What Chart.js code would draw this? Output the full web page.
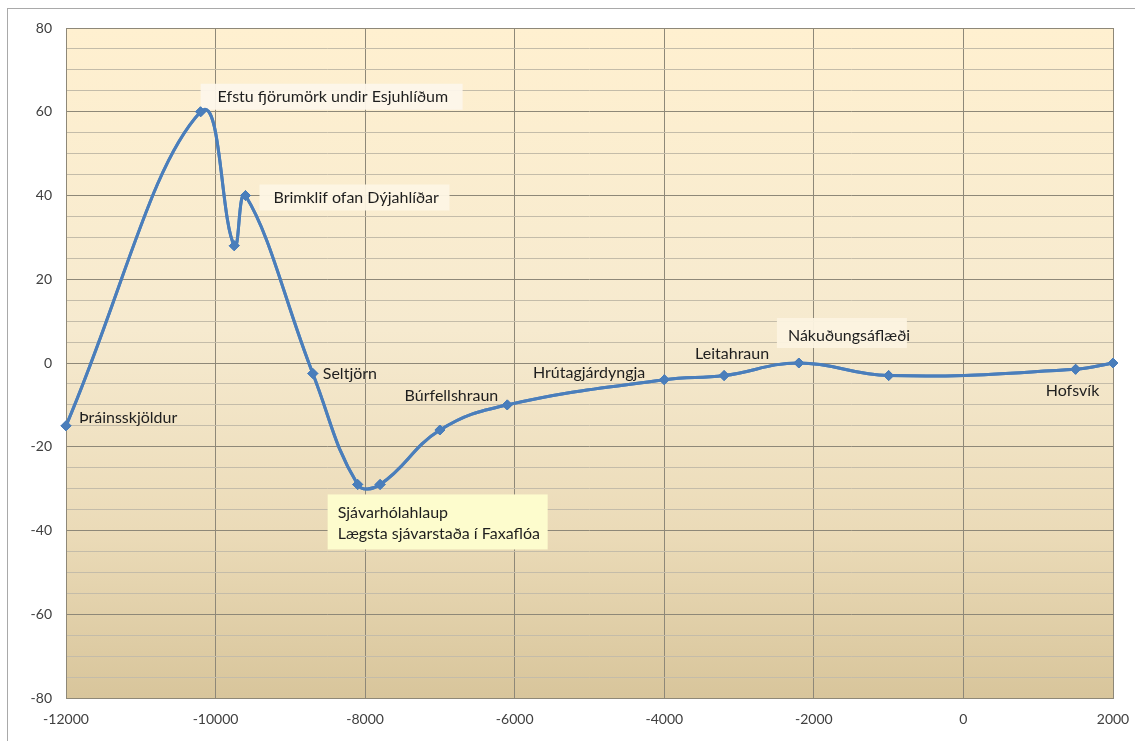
<!DOCTYPE html>
<html>
<head>
<meta charset="utf-8">
<script src="https://cdn.jsdelivr.net/npm/chart.js@4.4.1/dist/chart.umd.min.js"></script>
<style>
  html, body { margin: 0; padding: 0; background: #ffffff; overflow: hidden; }
  #frame { position: absolute; left: 7px; top: 8px; width: 1200px; height: 800px;
           border-left: 1px solid #a9a9a9; border-top: 1px solid #a9a9a9; box-sizing: border-box; }
  #wrap { position: absolute; left: 0; top: 0; width: 1135px; height: 741px; }
</style>
</head>
<body>
<div id="frame"></div>
<div id="wrap"><canvas id="c" width="1135" height="741"></canvas></div>
<script>
// Sea level (m) relative to today, by year (negative = BC)
const years  = [-12000, -10200, -9750, -9600, -8700, -8100, -7800, -7000, -6100, -4000, -3200, -2200, -1000, 1500, 2000];
const levels = [-15, 60, 28, 40, -2.5, -29, -29, -16, -10, -4, -3, 0, -3, -1.5, 0];

// Place names attached to the points ('' = no label)
const placeNames = [
  'Þráinsskjöldur',
  'Efstu fjörumörk undir Esjuhlíðum',
  '',
  'Brimklif ofan Dýjahlíðar',
  'Seltjörn',
  'Sjávarhólahlaup\nLægsta sjávarstaða í Faxaflóa',
  '',
  '',
  'Búrfellshraun',
  'Hrútagjárdyngja',
  'Leitahraun',
  'Nákuðungsáflæði',
  '',
  'Hofsvík',
  ''
];

// Axis ticks
const xTicks = [-12000, -10000, -8000, -6000, -4000, -2000, 0, 2000];
const yTicks = [-80, -60, -40, -20, 0, 20, 40, 60, 80];

// Label placement relative to its point, in pixels
const labelPlacement = {
  0:  { dx: 13,  dy: -8,  align: 'left' },
  1:  { dx: 17,  dy: -15, align: 'left', box: [-17, -13, 262, 26], fill: 'rgba(253,246,234,0.95)' },
  3:  { dx: 28,  dy: 2,   align: 'left', box: [-14, -13, 190, 26], fill: 'rgba(253,245,228,0.95)' },
  4:  { dx: 10,  dy: 0,   align: 'left' },
  5:  { dx: -20, dy: 28,  align: 'left', box: [-10, -18, 220, 55], fill: '#fdfccd', lineH: 21 },
  8:  { dx: -9,  dy: -9,  align: 'right' },
  9:  { dx: -19, dy: -7,  align: 'right' },
  10: { dx: 8,   dy: -22, align: 'center' },
  11: { dx: -11, dy: -27, align: 'left', box: [-11, -18, 130, 30], fill: 'rgba(252,243,224,0.95)' },
  13: { dx: -3,  dy: 22,  align: 'center' }
};

const FONT = 'Lato, "Open Sans", sans-serif';
const LINE_BLUE = '#4a7ebb';

const plotBackground = {
  id: 'plotBackground',
  beforeDraw(chart) {
    const { ctx, chartArea: a } = chart;
    const g = ctx.createLinearGradient(0, a.top, 0, a.bottom);
    g.addColorStop(0, '#fff0d0');
    g.addColorStop(0.45, '#f6eacf');
    g.addColorStop(0.75, '#ebdbb8');
    g.addColorStop(1, '#d8c59b');
    ctx.save();
    ctx.fillStyle = g;
    ctx.fillRect(a.left, a.top, a.right - a.left, a.bottom - a.top);
    ctx.restore();
  },
  afterDatasetsDraw(chart) {
    const { ctx, chartArea: a } = chart;
    ctx.save();
    ctx.strokeStyle = '#8e8878';
    ctx.lineWidth = 1;
    ctx.strokeRect(Math.round(a.left) + 0.5, Math.round(a.top) + 0.5,
                   Math.round(a.right - a.left), Math.round(a.bottom - a.top));
    ctx.restore();
  }
};

const placeLabels = {
  id: 'placeLabels',
  afterDatasetsDraw(chart) {
    const { ctx } = chart;
    const xs = chart.scales.x, ys = chart.scales.y;
    ctx.save();
    ctx.font = '16px ' + FONT;
    ctx.textBaseline = 'middle';
    placeNames.forEach((name, i) => {
      if (!name) return;
      const p = labelPlacement[i];
      const px = xs.getPixelForValue(years[i]);
      const py = ys.getPixelForValue(levels[i]);
      const tx = px + p.dx, ty = py + p.dy;
      if (p.box) {
        ctx.fillStyle = p.fill;
        ctx.fillRect(tx + p.box[0], ty + p.box[1], p.box[2], p.box[3]);
      }
      ctx.fillStyle = '#1e1e1e';
      ctx.textAlign = p.align;
      name.split('\n').forEach((line, k) => {
        ctx.fillText(line, tx, ty + k * (p.lineH || 18));
      });
    });
    ctx.restore();
  }
};

// Draw the curve again so it sits above the label boxes
const curveOnTop = {
  id: 'curveOnTop',
  afterDraw(chart) {
    const meta = chart.getDatasetMeta(0);
    chart.ctx.save();
    meta.controller.draw();
    chart.ctx.restore();
  }
};

new Chart(document.getElementById('c'), {
  type: 'scatter',
  data: {
    datasets: [{
      data: years.map((x, i) => ({ x, y: levels[i] })),
      showLine: true,
      tension: 0.42,
      borderColor: LINE_BLUE,
      backgroundColor: LINE_BLUE,
      borderWidth: 3,
      pointStyle: 'rectRot',
      pointRadius: 5,
      pointBorderWidth: 1,
      pointBackgroundColor: LINE_BLUE,
      pointBorderColor: LINE_BLUE,
      clip: false
    }]
  },
  options: {
    responsive: false,
    animation: false,
    events: [],
    layout: { padding: { left: 0, right: 22, top: 28, bottom: 0 } },
    plugins: { legend: { display: false }, tooltip: { enabled: false } },
    scales: {
      x: {
        type: 'linear',
        min: -12000, max: 2000,
        afterFit(s) { s.height = 43; s.paddingLeft = 0; s.paddingRight = 0; },
        afterBuildTicks(s) { s.ticks = xTicks.map(v => ({ value: v })); },
        border: { display: false },
        grid: { color: '#8e8878', lineWidth: 1, drawTicks: false },
        ticks: {
          padding: 13, color: '#404040', font: { family: FONT, size: 14 },
          maxRotation: 0, autoSkip: false,
          callback: (v) => String(v)
        }
      },
      y: {
        type: 'linear',
        min: -80, max: 80,
        afterFit(s) { s.width = 66; s.paddingTop = 0; s.paddingBottom = 0; },
        afterBuildTicks(s) {
          const t = [];
          for (let v = -80; v <= 80; v += 5) t.push({ value: v });
          s.ticks = t;
        },
        border: { display: false },
        grid: {
          drawTicks: false,
          lineWidth: 1,
          color: (c) => (yTicks.includes(c.tick.value) ? '#8e8878' : '#c4bca9')
        },
        ticks: {
          padding: 14,
          autoSkip: false,
          color: '#404040',
          font: { family: FONT, size: 14 },
          callback: (v) => (yTicks.includes(v) ? String(v) : '')
        }
      }
    }
  },
  plugins: [plotBackground, placeLabels, curveOnTop]
});
</script>
</body>
</html>
